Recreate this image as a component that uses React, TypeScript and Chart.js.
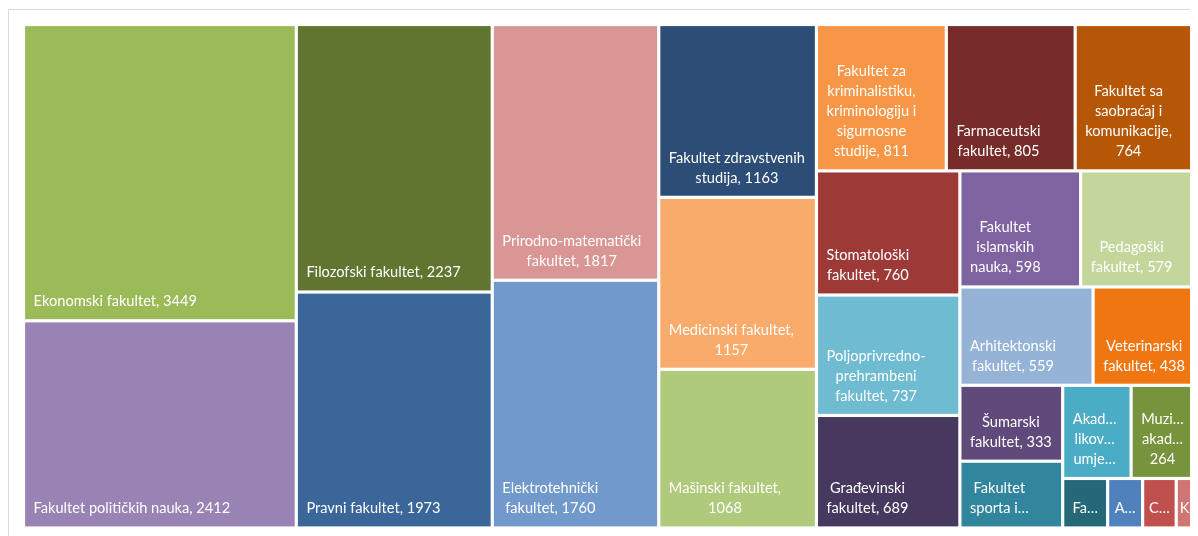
import React, { useEffect, useRef } from "react";
import { Chart, registerables } from "chart.js";

Chart.register(...registerables);

const faculties: string[] = [
  "Ekonomski fakultet",
  "Fakultet političkih nauka",
  "Filozofski fakultet",
  "Pravni fakultet",
  "Prirodno-matematički fakultet",
  "Elektrotehnički fakultet",
  "Fakultet zdravstvenih studija",
  "Medicinski fakultet",
  "Mašinski fakultet",
  "Fakultet za kriminalistiku, kriminologiju i sigurnosne studije",
  "Farmaceutski fakultet",
  "Fakultet sa saobraćaj i komunikacije",
  "Stomatološki fakultet",
  "Poljoprivredno-prehrambeni fakultet",
  "Građevinski fakultet",
  "Fakultet islamskih nauka",
  "Pedagoški fakultet",
  "Arhitektonski fakultet",
  "Veterinarski fakultet",
  "Šumarski fakultet",
  "Fakultet sporta i tjelesnog odgoja",
  "Akademija likovnih umjetnosti",
  "Muzička akademija",
  "Fakultet za upravu",
  "Akademija scenskih umjetnosti",
  "Centar za interdisciplinarne studije",
  "Katolički bogoslovni fakultet",
];

const students: number[] = [
  3449, 2412, 2237, 1973, 1817, 1760, 1163, 1157, 1068, 811, 805, 764, 760,
  737, 689, 598, 579, 559, 438, 333, 293, 272, 264, 95, 74, 71, 45,
];

const cellColors: string[] = [
  "#9BBB59", "#9983B5", "#5F7530", "#3A6699", "#D99694", "#7199CC",
  "#2C4D75", "#F8AB6A", "#AFCA7B", "#F79646", "#772C2A", "#B65708",
  "#9D3A38", "#6FBBD1", "#46385F", "#7F63A1", "#C3D69B", "#95B3D7",
  "#F07612", "#604A7B", "#31859C", "#4BACC6", "#77933C", "#256878",
  "#4F81BD", "#C0504D", "#D07573",
];

const FONT_SIZE = 14.6;
const FONT = `${FONT_SIZE}px Lato, "Noto Sans", sans-serif`;
const LINE_H = 20;
const PAD = 8.5;
const GAP = 1.6;

type R = { x: number; y: number; w: number; h: number };

function worst(row: number[], side: number): number {
  const s = row.reduce((a, b) => a + b, 0);
  const mx = Math.max(...row);
  const mn = Math.min(...row);
  return Math.max((side * side * mx) / (s * s), (s * s) / (side * side * mn));
}

function squarify(vals: number[], w: number, h: number): R[] {
  const total = vals.reduce((a, b) => a + b, 0);
  const k = (w * h) / total;
  const areas = vals.map((v) => v * k);
  const out: R[] = [];
  let rx = 0, ry = 0, rw = w, rh = h;
  let i = 0;
  while (i < areas.length) {
    const side = Math.min(rw, rh);
    let row = [areas[i]];
    let best = worst(row, side);
    let j = i + 1;
    while (j < areas.length) {
      const next = [...row, areas[j]];
      const wv = worst(next, side);
      if (wv <= best) {
        row = next;
        best = wv;
        j++;
      } else break;
    }
    const rs = row.reduce((a, b) => a + b, 0);
    if (rw >= rh) {
      const cw = rs / rh;
      let cy = ry;
      row.forEach((a, n) => {
        const ch = a / cw;
        out[i + n] = { x: rx, y: cy, w: cw, h: ch };
        cy += ch;
      });
      rx += cw;
      rw -= cw;
    } else {
      const ch = rs / rw;
      let cx = rx;
      row.forEach((a, n) => {
        const cw = a / ch;
        out[i + n] = { x: cx, y: ry, w: cw, h: ch };
        cx += cw;
      });
      ry += ch;
      rh -= ch;
    }
    i = j;
  }
  return out;
}

// A single word that does not fit is cut and ended with an ellipsis.
function truncWord(ctx: CanvasRenderingContext2D, word: string, avail: number, cutAvail: number): string {
  if (ctx.measureText(word).width <= avail) return word;
  let n = word.length - 1;
  while (n > 1 && ctx.measureText(word.slice(0, n) + "…").width > cutAvail) n--;
  return word.slice(0, Math.max(1, n)) + "…";
}

function wrapLabel(
  ctx: CanvasRenderingContext2D,
  text: string,
  avail: number,
  cutAvail: number,
  maxLines: number
): string[] {
  const tokens: { t: string; sp: boolean }[] = [];
  text.split(" ").forEach((word, wi) => {
    const parts = word.split(/(?<=-)/);
    parts.forEach((p, pi) => tokens.push({ t: p, sp: wi > 0 && pi === 0 }));
  });
  const lines: string[] = [];
  let line = "";
  for (const tk of tokens) {
    if (line === "") {
      const tw = truncWord(ctx, tk.t, avail, cutAvail);
      if (tw !== tk.t) {
        lines.push(tw);
        line = "";
      } else line = tk.t;
      continue;
    }
    const cand = line + (tk.sp ? " " : "") + tk.t;
    if (ctx.measureText(cand).width <= avail) {
      line = cand;
    } else {
      lines.push(line);
      const tw = truncWord(ctx, tk.t, avail, cutAvail);
      if (tw !== tk.t) {
        lines.push(tw);
        line = "";
      } else line = tk.t;
    }
  }
  if (line) lines.push(line);
  if (lines.length > maxLines) {
    const kept = lines.slice(0, maxLines);
    let last = kept[kept.length - 1];
    if (!last.endsWith("…")) {
      let base = last.trimEnd();
      while (base.length > 1 && ctx.measureText(base + "…").width > avail) base = base.slice(0, -1);
      last = base + "…";
    }
    kept[kept.length - 1] = last;
    return kept;
  }
  return lines;
}

const treemapPlugin = {
  id: "treemapCells",
  beforeDraw(chart: any) {
    const ctx: CanvasRenderingContext2D = chart.ctx;
    ctx.save();
    ctx.strokeStyle = "#d9d9d9";
    ctx.lineWidth = 1;
    ctx.beginPath();
    ctx.moveTo(0.5, chart.height + 10);
    ctx.lineTo(0.5, 1.5);
    ctx.lineTo(chart.width + 10, 1.5);
    ctx.stroke();
    ctx.restore();
  },
  afterDatasetsDraw(chart: any) {
    const ctx: CanvasRenderingContext2D = chart.ctx;
    const xs = chart.scales.x;
    const ys = chart.scales.y;
    const area = chart.chartArea;
    const aspect = (area.right - area.left) / (area.bottom - area.top);
    const ds = chart.data.datasets[0] as any;
    const vals: number[] = ds.treeValues;
    const names: string[] = ds.treeLabels;
    const cols: string[] = ds.treeColors;
    const rects = squarify(vals, aspect, 1);
    ctx.save();
    ctx.font = FONT;
    ctx.textBaseline = "alphabetic";
    ctx.textAlign = "center";
    rects.forEach((r, i) => {
      const x0 = xs.getPixelForValue(r.x / aspect) + GAP;
      const x1 = xs.getPixelForValue((r.x + r.w) / aspect) - GAP;
      const y0 = ys.getPixelForValue(r.y) + GAP;
      const y1 = ys.getPixelForValue(r.y + r.h) - GAP;
      const w = x1 - x0;
      const h = y1 - y0;
      ctx.fillStyle = cols[i];
      ctx.fillRect(x0, y0, w, h);

      const label = `${names[i]}, ${vals[i]}`;
      const avail = w - 2 * PAD;
      const cutAvail = 0.9 * w - 11.7;
      const maxLines = Math.max(1, Math.floor((h - 16) / LINE_H));
      const lines = wrapLabel(ctx, label, avail, cutAvail, maxLines);
      const boxW = Math.max(...lines.map((l) => ctx.measureText(l).width));
      const left = x0 + Math.max(2, Math.min(PAD, (w - boxW) / 2));
      const cx = left + boxW / 2;
      ctx.save();
      ctx.beginPath();
      ctx.rect(x0, y0, w, h);
      ctx.clip();
      ctx.fillStyle = "#ffffff";
      lines.forEach((l, li) => {
        const baseline = y1 - 13 - (lines.length - 1 - li) * LINE_H;
        ctx.fillText(l, cx, baseline);
      });
      ctx.restore();
    });
    ctx.restore();
  },
};

export default function App() {
  const ref = useRef<HTMLCanvasElement | null>(null);
  useEffect(() => {
    if (!ref.current) return;
    const chart = new Chart(ref.current, {
      type: "scatter",
      data: {
        datasets: [
          {
            data: [],
            treeValues: students,
            treeLabels: faculties,
            treeColors: cellColors,
          } as any,
        ],
      },
      options: {
        animation: false,
        responsive: false,
        devicePixelRatio: 1,
        layout: { padding: { left: 15.5, right: 0.5, top: 16.5, bottom: 8 } },
        scales: {
          x: { type: "linear", min: 0, max: 1, display: false },
          y: { type: "linear", min: 0, max: 1, reverse: true, display: false },
        },
        plugins: { legend: { display: false }, tooltip: { enabled: false } },
      },
      plugins: [treemapPlugin],
    });
    return () => chart.destroy();
  }, []);
  return (
    <div style={{ width: 1190, height: 528, overflow: "hidden" }}>
      <canvas ref={ref} width={1190} height={528} style={{ display: "block" }} />
    </div>
  );
}
